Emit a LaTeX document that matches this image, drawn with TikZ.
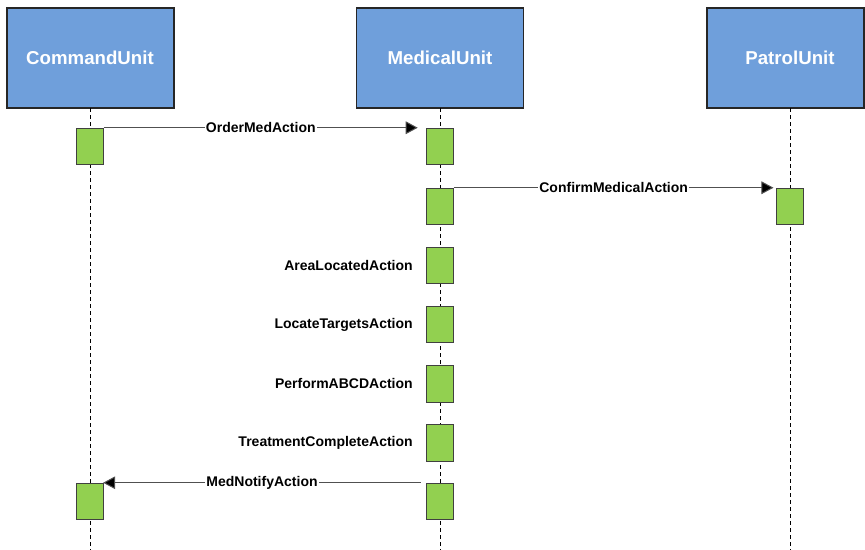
\documentclass[tikz,border=0pt]{standalone}
\usepackage{fontspec}
\setmainfont{Liberation Sans}
\usetikzlibrary{arrows.meta}
\definecolor{headblue}{RGB}{111,159,219}
\definecolor{actgreen}{RGB}{146,208,80}
\definecolor{edgegray}{RGB}{64,64,64}
\definecolor{msggray}{RGB}{80,80,80}
\begin{document}
\begin{tikzpicture}[x=0.75pt,y=-0.75pt,
  headbox/.style={draw=black!85,line width=0.8pt,fill=headblue,minimum width=125.25pt,minimum height=75pt,inner sep=0pt},
  headtext/.style={text=white,font=\fontsize{14}{16}\selectfont\bfseries,inner sep=0pt},
  lifeline/.style={draw=black,line width=0.75pt,dash pattern=on 3pt off 2.25pt},
  actbox/.style={draw=edgegray,line width=0.8pt,fill=actgreen,minimum width=20pt,minimum height=27.5pt,inner sep=0pt},
  msg/.style={draw=msggray,line width=0.75pt,-{Triangle[length=9pt,width=9.5pt,fill=black]}},
  msglabel/.style={fill=white,inner sep=1pt,text=black,font=\fontsize{10.5}{12}\selectfont\bfseries},
  selflabel/.style={anchor=east,inner sep=0pt,text=black,font=\fontsize{10.5}{12}\selectfont\bfseries}]
\useasboundingbox (0,0) rectangle (865,550);
\fill[white] (0,0) rectangle (865,550);

% lifeline ends
\coordinate (cEnd) at (90,550);
\coordinate (mEnd) at (440,550);
\coordinate (pEnd) at (790,550);

% participant heads
\node[headbox] (cmd) at (90.5,58) {};
\node[headtext] (cmdT) at (90,58) {CommandUnit};
\node[headbox] (med) at (440.3,58) {};
\node[headtext] (medT) at (440,58) {MedicalUnit};
\node[headbox,minimum width=117.75pt] (pat) at (785.5,58) {};
\node[headtext] (patT) at (790,58) {PatrolUnit};

\draw[lifeline] (90,108) -- (cEnd);
\draw[lifeline] (440,108) -- (mEnd);
\draw[lifeline] (790,108) -- (pEnd);

% activations
\node[actbox] (c1) at (90,146.6) {};
\node[actbox] (c2) at (90,501.6) {};
\node[actbox] (m1) at (440,146.6) {};
\node[actbox] (m2) at (440,206.6) {};
\node[actbox] (m3) at (440,265.6) {};
\node[actbox] (m4) at (440,324.6) {};
\node[actbox] (m5) at (440,383.8) {};
\node[actbox] (m6) at (440,443) {};
\node[actbox] (m7) at (440,501.6) {};
\node[actbox] (p1) at (790,206.6) {};

% messages
\draw[msg] (c1.north east) -- ([xshift=-6.3pt]m1.north west)
  node[msglabel,midway] {OrderMedAction};
\draw[msg] (m2.north east) -- ([xshift=-2pt]p1.north west)
  node[msglabel,midway] {ConfirmMedicalAction};
\draw[msg] ([xshift=-4pt]m7.north west) -- ([xshift=-0.5pt]c2.north east)
  node[msglabel,midway] {MedNotifyAction};

% internal actions
\node[selflabel] (l3) at (413,265.6) {AreaLocatedAction};
\node[selflabel] (l4) at (413,324.6) {LocateTargetsAction};
\node[selflabel] (l5) at (413,383.8) {PerformABCDAction};
\node[selflabel] (l6) at (413,443) {TreatmentCompleteAction};
\end{tikzpicture}
\end{document}
